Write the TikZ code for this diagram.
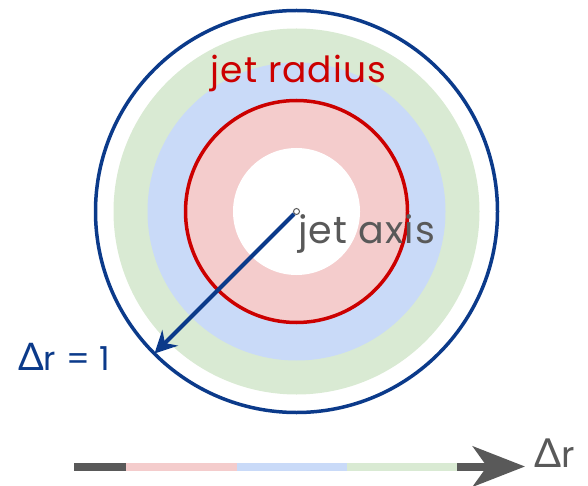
\documentclass[tikz,border=0pt]{standalone}
\usepackage{fontspec}
\setmainfont{Poppins}[LetterSpace=3]
\newfontfamily\greekfont{Lato}
\usetikzlibrary{arrows.meta, calc}
\definecolor{ringgreen}{HTML}{D9EAD3}
\definecolor{ringblue}{HTML}{C9DAF8}
\definecolor{ringpink}{HTML}{F4CCCC}
\definecolor{jetred}{HTML}{CC0000}
\definecolor{jetnavy}{HTML}{0B3A8A}
\definecolor{axisgray}{HTML}{595959}
\tikzset{
  axisdot/.style={circle, draw=axisgray, fill=white, line width=1pt,
    inner sep=0pt, minimum size=6pt},
  lbl/.style={inner sep=0pt, font=\fontsize{36}{40}\selectfont},
  radarrow/.style={-{Stealth[length=22pt, width=22pt]}, jetnavy, line width=4pt},
  drarrow/.style={-{Stealth[length=52pt, width=40pt, inset=14pt]}, axisgray, line width=8pt},
  band/.style={line width=8pt},
}
\begin{document}
\begin{tikzpicture}[x=1pt, y=-1pt]
  \useasboundingbox (0,0) rectangle (588,486);

  % Rings around the jet axis
  \coordinate (c) at (296.5,211.5);
  \fill[ringgreen] (c) circle[radius=183];
  \fill[ringblue]  (c) circle[radius=149];
  \fill[ringpink]  (c) circle[radius=111];
  \fill[white]     (c) circle[radius=63.5];
  \draw[jetred, line width=3.5pt] (c) circle[radius=111];
  \draw[jetnavy, line width=3.5pt] (c) circle[radius=201];

  % Jet axis and cone radius
  \node[axisdot] (axis) at (c) {};
  \coordinate (rim) at ($(c)+(-142,142)$);
  \draw[radarrow] (axis) -- (rim);

  % Labels
  \node[lbl, jetred, anchor=base] (jr) at (298.5,83) {jet radius};
  \node[lbl, axisgray, anchor=base west, font=\fontsize{38}{42}\selectfont] (ja) at (298,243) {jet axis};
  \node[lbl, jetnavy, anchor=base west, font=\fontsize{33}{38}\selectfont] (dr1) at (18,370) {{\greekfont\fontsize{38}{42}\selectfont Δ}r = 1};

  % Delta r axis
  \coordinate (a0) at (74,466.5);
  \coordinate (a1) at (126,466.5);
  \coordinate (a2) at (237,466.5);
  \coordinate (a3) at (347,466.5);
  \coordinate (a4) at (457,466.5);
  \coordinate (a5) at (525,466.5);
  \draw[drarrow] (a0) -- (a5);
  \draw[band, ringpink]  (a1) -- (a2);
  \draw[band, ringblue]  (a2) -- (a3);
  \draw[band, ringgreen] (a3) -- (a4);
  \node[lbl, axisgray, anchor=base west] (dr) at (534,467) {{\greekfont\fontsize{40}{44}\selectfont Δ}r};
\end{tikzpicture}
\end{document}
